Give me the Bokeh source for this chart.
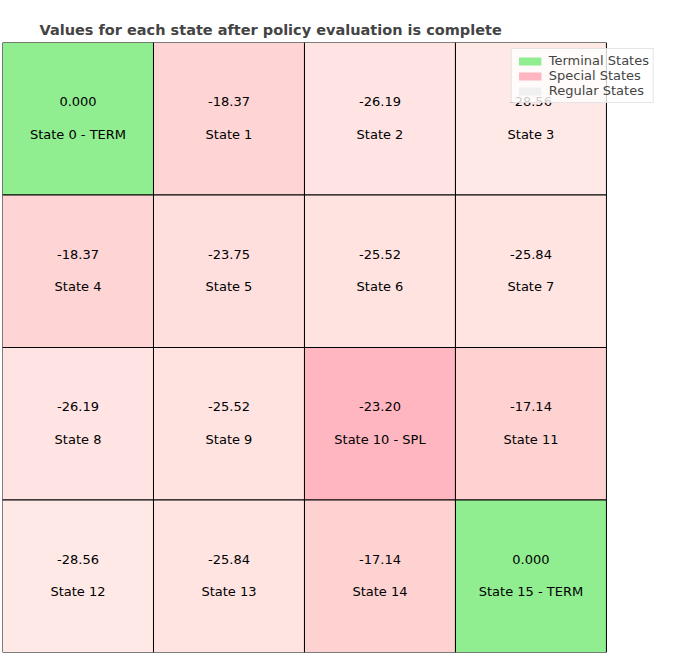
from bokeh.plotting import figure
from bokeh.models import ColumnDataSource, Title
from bokeh.core.properties import value
from bokeh.embed import file_html
from bokeh.resources import INLINE

values = [0.0, -18.37, -26.19, -28.56,
          -18.37, -23.75, -25.52, -25.84,
          -26.19, -25.52, -23.20, -17.14,
          -28.56, -25.84, -17.14, 0.0]
terminal = [0, 15]
special = [10]
n_side = 4


def shade(v):
    # lighter for lower values, between two reds
    t = (v + 28.56) / (28.56 - 17.14)
    t = max(0.0, min(1.0, t))
    g = int(round(233 - t * 23))
    b = int(round(231 - t * 21))
    return "#ff%02x%02x" % (g, b)


xs, ys, colors, vlab, slab = [], [], [], [], []
for s, v in enumerate(values):
    xs.append(s % n_side + 0.5)
    ys.append(n_side - s // n_side - 0.5)
    if s in terminal:
        colors.append("#90ee90")
        vlab.append("%.3f" % v)
        slab.append("State %d - TERM" % s)
    elif s in special:
        colors.append("#ffb6c1")
        vlab.append("%.2f" % v)
        slab.append("State %d - SPL" % s)
    else:
        colors.append(shade(v))
        vlab.append("%.2f" % v)
        slab.append("State %d" % s)

src = ColumnDataSource(dict(x=xs, y=ys, c=colors, v=vlab, s=slab,
                            yv=[y + 0.11 for y in ys], ys=[y - 0.1 for y in ys]))

p = figure(width=660, height=654, x_range=(0, 4.358), y_range=(0, 4),
           output_backend="svg", toolbar_location=None,
           min_border_left=2, min_border_right=0, min_border_bottom=2,
           min_border_top=42)
p.axis.visible = False
p.grid.visible = False
p.outline_line_color = None
p.title = Title(text="Values for each state after policy evaluation is complete",
                align="left", offset=37, text_font="DejaVu Sans",
                text_font_size="14.5px", text_font_style="bold")

p.rect("x", "y", 1, 1, source=src, fill_color="c", line_color="black", line_width=1)
p.text("x", "yv", text="v", source=src, text_align="center", text_baseline="middle",
       text_font=value("DejaVu Sans"), text_font_size="13px")
p.text("x", "ys", text="s", source=src, text_align="center", text_baseline="middle",
       text_font=value("DejaVu Sans"), text_font_size="13px")

# legend entries
for lab, col in [("Terminal States", "#90ee90"), ("Special States", "#ffb6c1"),
                 ("Regular States", "#f0f0f0")]:
    p.rect([-5], [-5], 0.1, 0.1, fill_color=col, line_color=None, legend_label=lab)
p.legend.location = "top_right"
p.legend.background_fill_alpha = 0.8
p.legend.border_line_color = "#cccccc"
p.legend.label_text_font = "DejaVu Sans"
p.legend.label_text_font_size = "13px"
p.legend.glyph_height = 10
p.legend.glyph_width = 28
p.legend.spacing = 0
p.legend.padding = 4
p.legend.margin = 6
p.legend.label_height = 14

open("out.html", "w").write(file_html(p, INLINE))
